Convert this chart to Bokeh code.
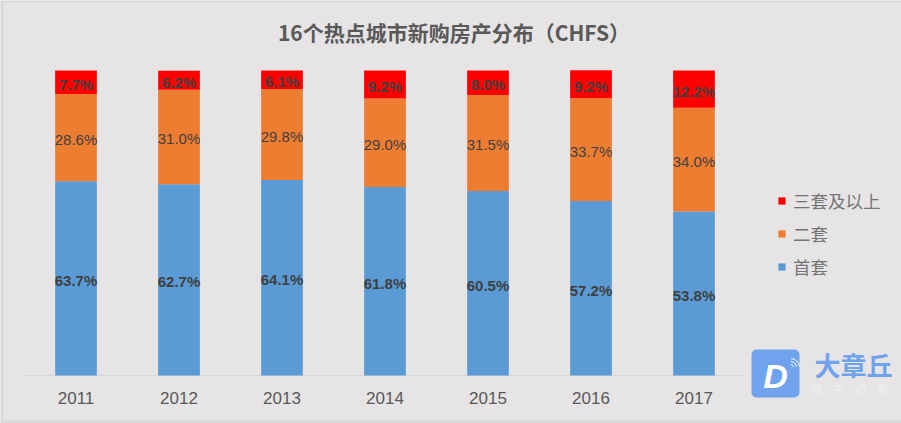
from bokeh.plotting import figure
from bokeh.models import ColumnDataSource, LabelSet, Legend, LegendItem, Label, BoxAnnotation, Range1d
from bokeh.core.properties import value
from bokeh.embed import file_html
from bokeh.resources import INLINE
import numpy as np

years = ["2011", "2012", "2013", "2014", "2015", "2016", "2017"]
first = [63.7, 62.7, 64.1, 61.8, 60.5, 57.2, 53.8]
second = [28.6, 31.0, 29.8, 29.0, 31.5, 33.7, 34.0]
third = [7.7, 6.2, 6.1, 9.2, 8.0, 9.2, 12.2]
names = ["首套", "二套", "三套及以上"]
title_text = "16个热点城市新购房产分布（CHFS）"

BG = "#e6e4e5"
colors = ["#5b9bd5", "#ed7d31", "#ff0000"]
W, H = 901, 423
PX_X = 103.0    # px per category
PX_Y = 3.05     # px per percent
X0 = 75.5       # first category centre in figure px
Y0 = 375        # baseline in figure px

idx = list(range(len(years)))
f, s, t = np.array(first), np.array(second), np.array(third)
src = ColumnDataSource(dict(
    x=idx, year=years, base=[0] * len(idx), first=first, second=second, third=third,
    y1=f / 2, y2=f + s / 2, y3=f + s + t / 2,
    l1=[f"{v:.1f}%" for v in first],
    l2=[f"{v:.1f}%" for v in second],
    l3=[f"{v:.1f}%" for v in third],
))

p = figure(width=W, height=H,
           x_range=Range1d(-X0 / PX_X, (W - X0) / PX_X),
           y_range=Range1d(-(H - Y0) / PX_Y, Y0 / PX_Y),
           output_backend="svg", toolbar_location=None,
           x_axis_location=None, y_axis_location=None,
           min_border=0, min_border_left=0, min_border_right=0, min_border_top=0, min_border_bottom=0,
           background_fill_color=BG, border_fill_color=BG, outline_line_color=None)
p.grid.visible = False

# category axis line and labels
p.segment(x0=[-0.5], x1=[6.5], y0=[0], y1=[0], line_color="#d6d4d5", line_width=1)
p.add_layout(LabelSet(x="x", y="base", text="year", source=src, text_align="center",
                      text_baseline="middle", text_font=value("Liberation Sans"), text_font_size="17px",
                      text_color="#595959", y_offset=-22))

rs = p.vbar_stack(["first", "second", "third"], x="x", width=0.405, color=colors,
                  line_color=None, source=src)

for y, lab, bold in (("y1", "l1", True), ("y2", "l2", False), ("y3", "l3", True)):
    p.add_layout(LabelSet(x="x", y=y, text=lab, source=src, text_align="center",
                          text_baseline="middle", text_font=value("Liberation Sans"),
                          text_font_size="15px", text_color="#404040", y_offset=-2,
                          text_font_style="bold" if bold else "normal"))

legend = Legend(items=[LegendItem(label=names[i], renderers=[rs[i]]) for i in (2, 1, 0)],
                location=(777, 144), orientation="vertical",
                background_fill_alpha=0, border_line_color=None,
                label_text_font="Noto Sans CJK SC", label_text_font_size="17.5px",
                label_text_color="#757575", glyph_width=9, glyph_height=9,
                spacing=8, padding=0, margin=0, label_standoff=7)
p.add_layout(legend, "center")

# title
p.add_layout(Label(x=453.5, y=H - 31, x_units="screen", y_units="screen", text=title_text,
                   text_align="center", text_baseline="middle", text_font="Noto Sans CJK SC",
                   text_font_size="21px", text_font_style="bold", text_color="#595959"))

# picture frame edges
for kw in (dict(left=0, right=3, bottom=0, top=H), dict(left=0, right=W, bottom=H - 2, top=H),
           dict(left=0, right=W, bottom=0, top=3)):
    p.add_layout(BoxAnnotation(left_units="screen", right_units="screen", top_units="screen", bottom_units="screen",
                               fill_color="#d9d9d9", fill_alpha=1, line_color=None, **kw))

# watermark
p.add_layout(BoxAnnotation(left=751, right=799, top=74, bottom=26,
                           left_units="screen", right_units="screen", top_units="screen", bottom_units="screen",
                           fill_color="#6fa3ee", fill_alpha=1, line_color=None, border_radius=5, level="underlay"))
p.add_layout(Label(x=775, y=48, x_units="screen", y_units="screen", text="D", text_align="center",
                   text_baseline="middle", text_font="Liberation Sans", text_font_size="34px",
                   text_font_style="bold italic", text_color="#ffffff", level="overlay"))
# signal arcs on the logo
ax, ay = (790 - X0) / PX_X, (Y0 - 367) / PX_Y
for r in (3, 6, 9):
    p.arc(x=[ax], y=[ay], radius=r, radius_units="screen", start_angle=0.1, end_angle=1.5,
          line_color="#ffffff", line_width=1, level="overlay")
p.add_layout(Label(x=814, y=59, x_units="screen", y_units="screen", text="大章丘", text_align="left",
                   text_baseline="middle", text_font="Noto Sans CJK SC", text_font_size="26px",
                   text_font_style="bold", text_color="#6fa3ee", level="overlay"))
p.add_layout(Label(x=811, y=35, x_units="screen", y_units="screen", text="每　天　必　看", text_align="left",
                   text_baseline="middle", text_font="Noto Sans CJK SC", text_font_size="11px",
                   text_color="#f1f0f1", level="overlay"))

open("out.html", "w").write(file_html(p, INLINE))
